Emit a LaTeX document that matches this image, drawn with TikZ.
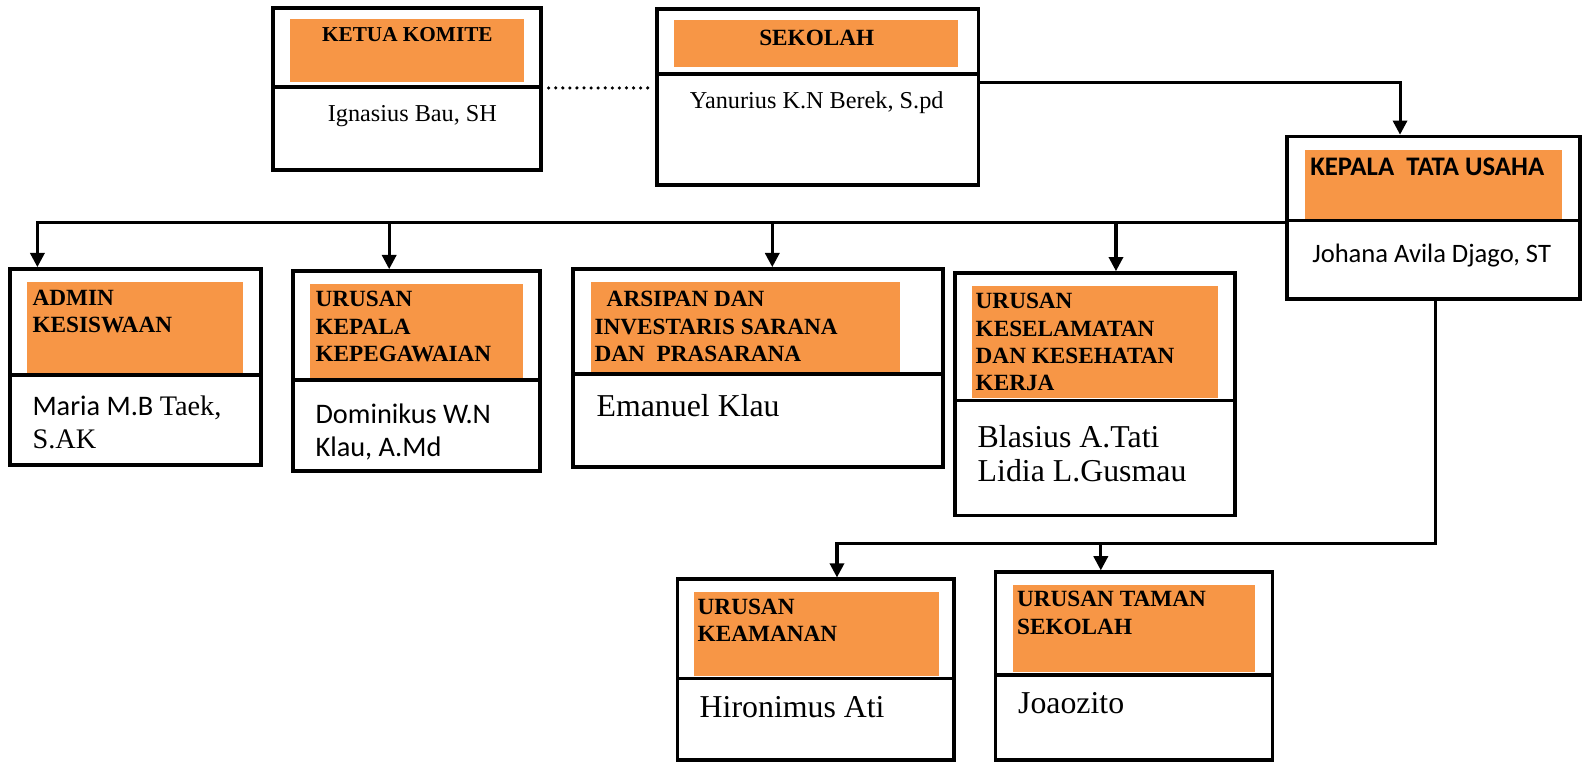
\documentclass[tikz,border=0pt]{standalone}
\usepackage{fontspec}
\setmainfont{Liberation Serif}
\newfontfamily\calfont{Carlito}
\usetikzlibrary{arrows.meta,fit}
\definecolor{orgor}{RGB}{247,150,70}
\begin{document}
\begin{tikzpicture}[x=1pt,y=-1pt,
 box/.style={draw, line width=3.5pt, inner sep=0pt},
 sepline/.style={line width=3.5pt},
 band/.style={fill=orgor},
 hdr/.style={font=\bfseries\fontsize{23}{27}\selectfont, align=left, anchor=north west, inner sep=0pt},
 nm/.style={font=\fontsize{31.5}{33}\selectfont, align=left, inner sep=0pt},
 calnm/.style={font=\calfont\fontsize{28}{33}\selectfont, align=left, inner sep=0pt, anchor=north west},
 arr/.style={line width=3pt, -{Triangle[width=14pt,length=14pt]}},
 dots/.style={line width=3.5pt, dash pattern=on 0pt off 7pt, line cap=round}]
\useasboundingbox[fill=white] (0,0) rectangle (1568,758);

% orange bands
\fill[band] (287,19) rectangle (518,81);
\fill[band] (667,20) rectangle (948,66);
\fill[band] (1291,148) rectangle (1545,218);
\fill[band] (27,279) rectangle (240,369);
\fill[band] (307,281) rectangle (517,374);
\fill[band] (585,279) rectangle (890,368);
\fill[band] (962,283) rectangle (1205,394);
\fill[band] (687,586) rectangle (929,669);
\fill[band] (1002,579) rectangle (1242,665);

% boxes
\node[box, fit={(270,8) (535,168)}] (komite) {};
\node[box, fit={(650,9) (968,183)}] (sekolah) {};
\node[box, fit={(1273,135) (1563,296)}] (ktu) {};
\node[box, fit={(10,266) (258,460)}] (admin) {};
\node[box, fit={(290,268) (534,466)}] (peg) {};
\node[box, fit={(567,266) (933,462)}] (arsip) {};
\node[box, fit={(945,270) (1222,510)}] (kkk) {};
\node[box, fit={(670,573) (944,752)}] (aman) {};
\node[box, fit={(985,566) (1259,752)}] (taman) {};

% dividers
\draw[sepline] (270,86) -- (535,86);
\draw[sepline] (650,73) -- (968,73);
\draw[sepline] (1273,218) -- (1563,218);
\draw[sepline] (10,371) -- (258,371);
\draw[sepline] (290,376) -- (534,376);
\draw[sepline] (567,370) -- (933,370);
\draw[sepline] (945,396) -- (1222,396);
\draw[sepline] (670,671) -- (944,671);
\draw[sepline] (985,668) -- (1259,668);

% texts
\node[font=\bfseries\fontsize{21}{25}\selectfont, inner sep=0pt] (t1) at (403,34) {KETUA KOMITE};
\node[font=\bfseries\fontsize{23}{27}\selectfont, inner sep=0pt] (t2) at (808,38) {SEKOLAH};
\node[font=\fontsize{24}{28}\selectfont, anchor=base, inner sep=0pt] (n1) at (408,120) {Ignasius Bau, SH};
\node[font=\fontsize{24}{28}\selectfont, anchor=base, inner sep=0pt] (n2) at (808,107) {Yanurius K.N Berek, S.pd};

\node[font=\calfont\bfseries\fontsize{26.5}{30}\selectfont, anchor=base west, inner sep=0pt] (t3) at (1296,174) {KEPALA\ \ TATA USAHA};
\node[font=\calfont\fontsize{26.3}{30}\selectfont, anchor=base west, inner sep=0pt] (n3) at (1298,260) {Johana Avila Djago, ST};

\node[hdr] (t4) at (32,287) {ADMIN\\KESISWAAN};
\node[calnm] (n4) at (32,391) {Maria M.B {\rmfamily Taek,}\\{\rmfamily S.AK}};

\node[hdr] (t5) at (312,288) {URUSAN\\KEPALA\\KEPEGAWAIAN};
\node[calnm] (n5) at (312,399) {Dominikus W.N\\Klau, A.Md};

\node[hdr] (t6) at (588,288) {\hspace*{12pt}ARSIPAN DAN\\INVESTARIS SARANA\\DAN\ \ PRASARANA};
\node[nm, anchor=base west] (n6) at (590,412) {Emanuel Klau};

\node[hdr] (t7) at (965,290) {URUSAN\\KESELAMATAN\\DAN KESEHATAN\\KERJA};
\node[nm, anchor=north west] (n7) at (967,421) {Blasius A.Tati\\Lidia L.Gusmau};

\node[hdr] (t8) at (690,592) {URUSAN\\KEAMANAN};
\node[nm, anchor=base west] (n8) at (692,710) {Hironimus Ati};

\node[hdr] (t9) at (1006,585) {URUSAN TAMAN\\SEKOLAH};
\node[nm, anchor=base west] (n9) at (1007,706) {Joaozito};

% connectors
\coordinate (d1) at (0,87);
\draw[dots, shorten <=6pt, shorten >=3pt] (komite.east |- d1) -- (sekolah.west |- d1);

\coordinate (j1) at (1385,82);
\draw[arr] (sekolah.east |- j1) -- (j1) -- (ktu.north -| j1);

\coordinate (bus) at (0,220);
\coordinate (b1) at (37,220);
\coordinate (b2) at (385,220);
\coordinate (b3) at (764,220);
\coordinate (b4) at (1104,220);
\draw[arr] (ktu.west |- bus) -- (b1) -- (admin.north -| b1);
\draw[arr] (b2) -- (peg.north -| b2);
\draw[arr] (b3) -- (arsip.north -| b3);
\draw[arr] (b4) -- (kkk.north -| b4);

\coordinate (l1) at (1420,538);
\coordinate (l2) at (828,538);
\coordinate (l3) at (1089,538);
\draw[arr] (ktu.south -| l1) -- (l1) -- (l2) -- (aman.north -| l2);
\draw[arr] (l3) -- (taman.north -| l3);
\end{tikzpicture}
\end{document}
